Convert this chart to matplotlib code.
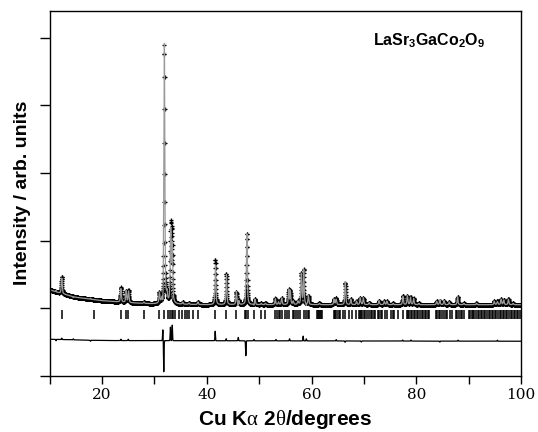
import numpy as np
import matplotlib
matplotlib.use("Agg")
import matplotlib.pyplot as plt

# ---------------- data ----------------
# background control points (2theta, intensity)
bg_x = [10, 12, 15, 20, 25, 30, 40, 60, 80, 100]
bg_y = [1.27, 1.22, 1.16, 1.11, 1.08, 1.06, 1.05, 1.05, 1.05, 1.05]

# observed peaks: position (deg) and height above background
peak_pos = [12.3, 23.6, 24.6, 25.05, 28.0, 30.95, 31.9, 32.4, 33.1, 33.4,
            35.4, 36.6, 38.3, 41.65, 43.75, 45.65, 46.1, 47.65, 49.2, 50.4,
            51.2, 53.1, 53.7, 54.3, 55.65, 55.95, 56.5, 57.4, 58.05, 58.5,
            59.4, 61.5, 64.3, 64.7, 66.45, 67.5, 68.6, 69.3, 69.9, 71.0,
            72.9, 73.9, 74.4, 75.6, 77.45, 78.3, 78.9, 79.5, 80.5, 83.9,
            84.5, 85.3, 86.3, 87.9, 89.1, 91.5, 94.9, 95.5, 96.2, 96.7,
            97.6, 98.5]
peak_h = [0.25, 0.22, 0.17, 0.18, 0.02, 0.15, 3.82, 0.12, 1.16, 1.08,
          0.03, 0.02, 0.04, 0.66, 0.46, 0.19, 0.06, 1.05, 0.08, 0.02,
          0.02, 0.09, 0.04, 0.10, 0.22, 0.20, 0.05, 0.05, 0.45, 0.52,
          0.13, 0.02, 0.08, 0.10, 0.33, 0.08, 0.05, 0.10, 0.10, 0.03,
          0.06, 0.05, 0.05, 0.02, 0.13, 0.13, 0.11, 0.09, 0.02, 0.05,
          0.06, 0.06, 0.04, 0.12, 0.02, 0.02, 0.05, 0.06, 0.08, 0.07,
          0.08, 0.02]
peak_fwhm = 0.2

# difference (obs - calc) features
diff_pos = [11.2, 12.3, 14.5, 17.8, 23.6, 25.0, 31.6, 31.78, 33.05, 33.4,
            41.6, 43.7, 46.0, 47.45, 49.0, 53.2, 55.8, 58.4, 59.0, 64.7,
            66.4, 69.5, 77.4, 79.0, 84.5, 88.0, 95.5]
diff_amp = [-0.02, 0.02, 0.015, -0.015, 0.02, 0.02, 0.16, -0.46, 0.20, 0.23,
            0.14, 0.03, 0.05, -0.22, 0.02, 0.02, 0.03, 0.07, 0.03, 0.02,
            -0.02, -0.015, 0.015, 0.015, -0.015, 0.015, 0.015]
diff_sigma = 0.05
diff_base_x = [10, 20, 100]
diff_base_y = [0.54, 0.52, 0.51]

# reflection markers (2theta)
ref_ticks = [12.3, 18.47, 23.63, 24.6, 25.03, 28.03, 30.96, 31.75, 32.5, 33.0,
             33.3, 33.6, 33.95, 34.6, 35.35, 35.85, 36.2, 36.6, 37.45, 38.4,
             41.6, 43.7, 45.6, 47.2, 47.5, 47.95, 49.1, 50.4, 51.15, 53.1,
             53.4, 53.7, 54.0, 54.35, 55.0, 55.3, 55.75, 56.4, 56.65, 57.1,
             57.5, 57.8, 58.5, 58.95, 59.3, 59.6, 61.05, 61.25, 61.45, 61.65,
             61.85, 62.0, 64.2, 64.4, 64.55, 64.9, 65.2, 65.5, 65.95, 66.45,
             67.1, 67.7, 68.55, 69.0, 69.2, 69.45, 69.7, 70.0, 70.3, 70.55,
             70.9, 71.4, 71.6, 71.85, 72.2, 72.7, 72.95, 73.2, 73.5, 74.1,
             74.4, 75.1, 75.5, 75.8, 76.5, 77.4, 78.2, 78.45, 78.6, 78.9,
             79.2, 79.5, 79.8, 80.1, 80.4, 80.75, 81.0, 81.3, 81.6, 81.9,
             82.15, 82.4, 83.7, 84.0, 84.3, 84.6, 84.9, 85.25, 85.6, 85.9,
             86.5, 86.9, 87.5, 87.8, 88.15, 88.5, 88.8, 89.1, 90.0, 90.3,
             90.6, 90.85, 91.1, 91.4, 91.7, 92.0, 92.3, 92.6, 92.9, 93.2,
             93.5, 93.8, 94.1, 94.4, 94.7, 95.0, 95.3, 95.6, 95.9, 96.2,
             96.5, 96.8, 97.1, 97.4, 97.7, 98.0, 98.3, 98.6, 98.9, 99.2,
             99.5, 99.8]

x_ticks = [10, 20, 30, 40, 50, 60, 70, 80, 90, 100]
x_ticklabels = ["", "20", "", "40", "", "60", "", "80", "", "100"]
y_ticks = [0, 1, 2, 3, 4, 5]

# ---------------- model curves from the read peaks ----------------
def profile(x):
    y = np.interp(x, bg_x, bg_y)
    hw = peak_fwhm / 2.0
    for p, h in zip(peak_pos, peak_h):
        d = (x - p) / hw
        y = y + h * (0.6 / (1 + d * d) + 0.4 * np.exp(-np.log(2) * d * d))
    return y

def dfeat(x):
    y = np.zeros_like(x)
    for p, a in zip(diff_pos, diff_amp):
        y = y + a * np.exp(-0.5 * ((x - p) / diff_sigma) ** 2)
    return y

x_obs = np.arange(10, 100.001, 0.02)
x_fine = np.arange(10, 100.001, 0.005)
y_obs = profile(x_obs)
y_calc = profile(x_fine) - dfeat(x_fine)
y_diff = np.interp(x_fine, diff_base_x, diff_base_y) + dfeat(x_fine)

# ---------------- drawing ----------------
plt.rcParams["mathtext.fontset"] = "custom"
plt.rcParams["mathtext.rm"] = "Liberation Serif"
plt.rcParams["mathtext.it"] = "Liberation Serif"
plt.rcParams["mathtext.bf"] = "Liberation Sans:bold"
plt.rcParams["mathtext.default"] = "rm"

fig = plt.figure(figsize=(5.38, 4.32), dpi=100)
ax = fig.add_axes([0.0924, 0.1303, 0.876, 0.845])

ax.plot(x_obs, y_obs, linestyle="none", marker="+", markersize=3.2,
        markeredgewidth=0.9, color="black")
ax.plot(x_fine, y_calc, color="#9a9a9a", lw=0.9)
ax.vlines(ref_ticks, 0.84, 0.97, color="black", lw=1.1)
ax.plot(x_fine, y_diff, color="black", lw=0.9)

ax.set_xlim(10, 100)
ax.set_ylim(0, 5.4)
ax.set_xticks(x_ticks)
ax.set_xticklabels(x_ticklabels, family="DejaVu Serif", fontsize=11)
ax.set_yticks(y_ticks)
ax.set_yticklabels([])
ax.tick_params(axis="x", direction="out", length=6, width=1.0, pad=3)
ax.tick_params(axis="y", direction="out", length=7, width=1.0)
for s in ax.spines.values():
    s.set_linewidth(1.0)

ax.set_xlabel(r"Cu K$\alpha$ 2$\theta$/degrees", family="Liberation Sans",
              fontweight="bold", fontsize=15, labelpad=4)
ax.set_ylabel("Intensity / arb. units", family="Liberation Sans",
              fontweight="bold", fontsize=14, labelpad=3)
ax.text(0.924, 0.917, r"$\mathbf{LaSr_3GaCo_2O_9}$", transform=ax.transAxes,
        ha="right", va="center", fontsize=11.5)

fig.savefig("out.png", dpi=100)
